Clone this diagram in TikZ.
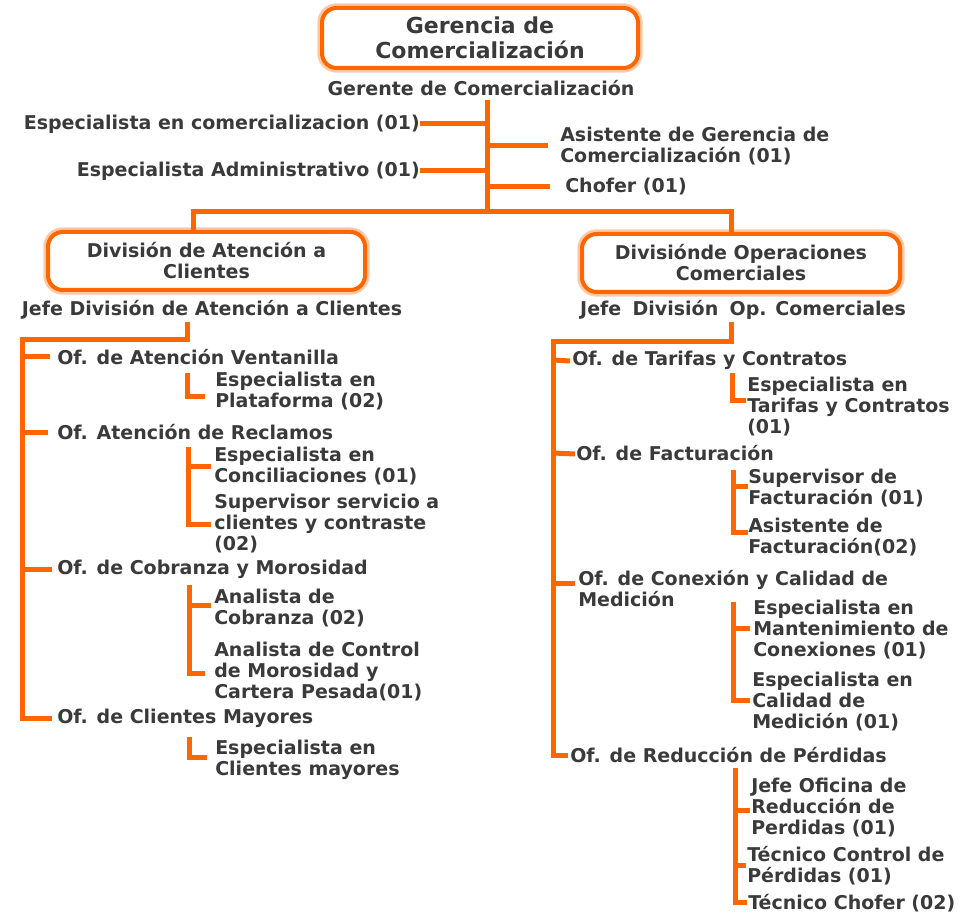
\documentclass[tikz,border=0pt]{standalone}
\usepackage{fontspec}
\setmainfont{DejaVu Sans}
\usetikzlibrary{calc}
\definecolor{org}{HTML}{FF6600}
\definecolor{txt}{HTML}{3A3A3A}
\newcommand\bodyfnt{\fontsize{14.25}{15.75}\selectfont\bfseries}
\newcommand\titlefnt{\fontsize{16.5}{18.75}\selectfont\bfseries}
\begin{document}
\begin{tikzpicture}[x=0.75pt,y=-0.75pt,
  lbl/.style={inner sep=0pt, text=txt, font=\bodyfnt, align=left},
  orgbox/.style={draw=org, line width=3pt, rounded corners=11pt, fill=white,
     preaction={draw=org!35, line width=7pt},
     inner sep=0pt, align=center, text=txt},
  conn/.style={draw=org, line width=3.75pt}]
\useasboundingbox (0,0) rectangle (973,912);

% ---- top
\node[orgbox, font=\titlefnt, minimum width=237pt, minimum height=45pt] (ger) at (480,38) {Gerencia de\\Comercialización};
\node[lbl, font=\bodyfnt] (gte) at (481,88) {Gerente de Comercialización};
\coordinate (t0) at (487,100);
\coordinate (t1) at (487,212);
\node[lbl, anchor=east] (esp1) at (420,124) {Especialista en comercializacion (01)};
\node[lbl, anchor=east] (esp2) at (420,171) {Especialista Administrativo (01)};
\node[lbl, anchor=west] (asis) at (560,146) {Asistente de Gerencia de\\Comercialización (01)};
\node[lbl, anchor=west] (chof) at (565,187) {Chofer (01)};
\draw[conn] (t0) -- (t1);
\draw[conn] (esp1.east) -- (esp1.east -| t0);
\draw[conn] (esp2.east) -- (esp2.east -| t0);
\draw[conn] (asis.west -| t0) -- ([shift={(-12,0)}]asis.west);
\draw[conn] (chof.west -| t0) -- ([shift={(-15,0)}]chof.west);

% ---- divisions
\node[orgbox, font=\bodyfnt, minimum width=237.75pt, minimum height=43.5pt] (divA) at (206.5,261) {División de Atención a\\Clientes};
\node[orgbox, font=\bodyfnt, minimum width=238.5pt, minimum height=43.5pt] (divB) at (741,263) {Divisiónde Operaciones\\Comerciales};
\coordinate (hL) at (193,212);
\coordinate (hR) at (731,212);
\draw[conn] (hL |- divA.north) -- (hL) -- (hR) -- (hR |- divB.north);

\node[lbl] (jefA) at (212,310) {Jefe División de Atención a Clientes};
\node[lbl] (jefB) at (743,310) {Jefe\hspace{0.6em}División\hspace{0.6em}Op. Comerciales};

% ---- left tree
\coordinate (aTop) at (187,322);
\coordinate (aL) at (22,340);
\node[lbl, anchor=west] (ofA1) at (57,357) {Of. de Atención Ventanilla};
\node[lbl, anchor=west] (ofA2) at (57,432) {Of. Atención de Reclamos};
\node[lbl, anchor=west] (ofA3) at (57,569) {Of. de Cobranza y Morosidad};
\node[lbl, anchor=west] (ofA4) at (57,718) {Of. de Clientes Mayores};
\draw[conn] (aTop) -- (aTop |- aL) -- (aL) -- (aL |- ofA4.west) -- ([shift={(-5,0)}]ofA4.west);
\draw[conn] (aL |- ofA1.west) -- ([shift={(-7,0)}]ofA1.west);
\draw[conn] (aL |- ofA2.west) -- ([shift={(-9,0)}]ofA2.west);
\draw[conn] (aL |- ofA3.west) -- ([shift={(-5,0)}]ofA3.west);

\node[lbl, anchor=west] (sA11) at (215,391.5) {Especialista en\\Plataforma (02)};
\coordinate (cA1) at (187,373);
\draw[conn] (cA1) |- ([shift={(-10,5)}]sA11.west);

\node[lbl, anchor=west] (sA21) at (214,466.5) {Especialista en\\Conciliaciones (01)};
\node[lbl, anchor=west] (sA22) at (214,524) {Supervisor servicio a\\clientes y contraste\\(02)};
\coordinate (cA2) at (188,447);
\draw[conn] (cA2) |- ([shift={(-3,0)}]sA22.west);
\draw[conn] (cA2 |- sA21.west) -- ([shift={(-3,0)}]sA21.west);

\node[lbl, anchor=west] (sA31) at (214,608.5) {Analista de\\Cobranza (02)};
\node[lbl, anchor=west] (sA32) at (214,672) {Analista de Control\\de Morosidad y\\Cartera Pesada(01)};
\coordinate (cA3) at (189,585);
\draw[conn] (cA3) |- ([shift={(-9,1)}]sA32.west);
\draw[conn] ([shift={(0,-3.5)}]cA3 |- sA31.west) -- ([shift={(-3,-3.5)}]sA31.west);

\node[lbl, anchor=west] (sA41) at (215,759.5) {Especialista en\\Clientes mayores};
\coordinate (cA4) at (189,737);
\draw[conn] (cA4) |- ([shift={(-8,-2.5)}]sA41.west);

% ---- right tree
\coordinate (bTop) at (731,322);
\coordinate (bL) at (553,342);
\node[lbl, anchor=west] (ofB1) at (572,360) {Of. de Tarifas y Contratos};
\node[lbl, anchor=west] (ofB2) at (576,453) {Of. de Facturación};
\node[lbl, anchor=west] (ofB3) at (578,588.5) {Of. de Conexión y Calidad de\\Medición};
\node[lbl, anchor=west] (ofB4) at (570,755) {Of. de Reducción de Pérdidas};
\draw[conn] (bTop) -- (bTop |- bL) -- (bL) -- (bL |- ofB4.west) -- ([shift={(-2,0)}]ofB4.west);
\draw[conn] (bL |- ofB1.west) -- ([shift={(-2,1)}]ofB1.west);
\draw[conn] (bL |- ofB2.west) -- ([shift={(-1,1)}]ofB2.west);
\draw[conn] ([shift={(0,-5.5)}]bL |- ofB3.west) -- ([shift={(-3,-5.5)}]ofB3.west);

\node[lbl, anchor=west] (sB11) at (747,406.5) {Especialista en\\Tarifas y Contratos\\(01)};
\coordinate (cB1) at (732,373);
\draw[conn] (cB1) |- ([shift={(-1,-6.5)}]sB11.west);

\node[lbl, anchor=west] (sB21) at (748,488.5) {Supervisor de\\Facturación (01)};
\node[lbl, anchor=west] (sB22) at (748,537) {Asistente de\\Facturación(02)};
\coordinate (cB2) at (733,470);
\draw[conn] (cB2) |- ([shift={(0,-5)}]sB22.west);
\draw[conn] ([shift={(0,-2.5)}]cB2 |- sB21.west) -- ([shift={(0,-2.5)}]sB21.west);

\node[lbl, anchor=west] (sB31) at (753,630) {Especialista en\\Mantenimiento de\\Conexiones (01)};
\node[lbl, anchor=west] (sB32) at (752,701.5) {Especialista en\\Calidad de\\Medición (01)};
\coordinate (cB3) at (733,602);
\draw[conn] (cB3) |- ([shift={(-2,-1.5)}]sB32.west);
\draw[conn] ([shift={(0,-2)}]cB3 |- sB31.west) -- ([shift={(-3,-2)}]sB31.west);

\node[lbl, anchor=west] (sB41) at (751,808) {Jefe Oficina de\\Reducción de\\Perdidas (01)};
\node[lbl, anchor=west] (sB42) at (747,865.5) {Técnico Control de\\Pérdidas (01)};
\node[lbl, anchor=west] (sB43) at (748,903) {Técnico Chofer (02)};
\coordinate (cB4) at (735,768);
\draw[conn] (cB4) |- ([shift={(-1,-1)}]sB43.west);
\draw[conn] ([shift={(0,2)}]cB4 |- sB41.west) -- ([shift={(-1,2)}]sB41.west);
\draw[conn] (cB4 |- sB42.west) -- ([shift={(-1,0)}]sB42.west);
\end{tikzpicture}
\end{document}
